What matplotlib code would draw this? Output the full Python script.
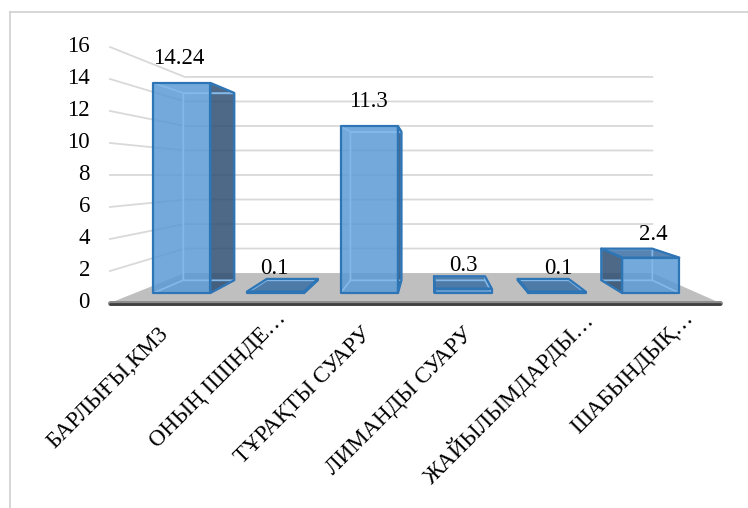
import matplotlib
matplotlib.use("Agg")
import matplotlib.pyplot as plt
from matplotlib.patches import Polygon
from matplotlib.lines import Line2D

plt.rcParams['font.family'] = ['Liberation Serif', 'DejaVu Serif']

# Data
categories = ['БАРЛЫҒЫ,КМ3', 'ОНЫҢ ІШІНДЕ…', 'ТҰРАҚТЫ СУАРУ',
              'ЛИМАНДЫ СУАРУ', 'ЖАЙЫЛЫМДАРДЫ…', 'ШАБЫНДЫҚ…']
values = [14.24, 0.1, 11.3, 0.3, 0.1, 2.4]
value_labels = ['14.24', '0.1', '11.3', '0.3', '0.1', '2.4']
y_ticks = [0, 2, 4, 6, 8, 10, 12, 14, 16]

# 3-D look: one-point perspective around a vanishing point (data units)
XVP, YVP = 2.6465, 8.0     # vanishing point
K = 0.234                   # shrink of the back wall relative to the front plane
BAR_W = 0.61
D_FRONT, D_BACK = 0.333, 0.76
N = len(categories)
XL, XR = -0.5, N - 0.5


def proj(x, v, d):
    f = 1 - K * d
    return XVP + (x - XVP) * f, YVP + (v - YVP) * f


fig = plt.figure(figsize=(7.48, 5.08), dpi=100)
ax = fig.add_axes([0, 0, 1, 1])
ax.set_xlim(-1.5816, 5.7734)
ax.set_ylim(-12.8125, 18.9375)
ax.axis('off')

# chart frame
fig.add_artist(Line2D([10 / 748, 1], [1 - 12 / 508, 1 - 12 / 508],
                      transform=fig.transFigure, color='#CFCFCF', lw=1.2))
fig.add_artist(Line2D([10 / 748, 10 / 748], [0, 1 - 12 / 508],
                      transform=fig.transFigure, color='#CFCFCF', lw=1.2))

grid_c = '#D9D9D9'
# gridlines on the side wall and the back wall
for t in y_ticks[1:]:
    p0 = proj(XL, t, 0)
    p1 = proj(XL, t, 1)
    p2 = proj(XR, t, 1)
    ax.plot([p0[0], p1[0], p2[0]], [p0[1], p1[1], p2[1]],
            color=grid_c, lw=1.3, zorder=1, solid_joinstyle='miter')

# floor
floor = [proj(XL, 0, 0), proj(XR, 0, 0), proj(XR, 0, 1), proj(XL, 0, 1)]
ax.add_patch(Polygon(floor, closed=True, facecolor='#BFBFBF',
                     edgecolor='none', zorder=2))
fa, fb = proj(XL, 0, 0), proj(XR, 0, 0)
ax.plot([fa[0], fb[0]], [fa[1], fb[1]], color='#8C8C8C', lw=3.6,
        zorder=3, solid_capstyle='round')
ax.plot([fa[0], fb[0]], [fa[1] - 0.06, fb[1] - 0.06], color='#404040',
        lw=2.0, zorder=3, solid_capstyle='round')

# tick labels
for t in y_ticks:
    ax.text(XL - 0.197, t, str(t), ha='right', va='center',
            fontsize=16.5, color='#000000', zorder=6)

front_c, side_c, top_c = '#5B9BD5', '#2F4F73', '#3A6EA5'
edge_c, hidden_c = '#2E75B6', '#84B8E8'

for i, v in enumerate(values):
    xa, xb = i - BAR_W / 2, i + BAR_W / 2

    def face(pts):
        return [proj(*p) for p in pts]

    faces = {
        'front': face([(xa, 0, D_FRONT), (xb, 0, D_FRONT), (xb, v, D_FRONT), (xa, v, D_FRONT)]),
        'back': face([(xa, 0, D_BACK), (xb, 0, D_BACK), (xb, v, D_BACK), (xa, v, D_BACK)]),
        'left': face([(xa, 0, D_FRONT), (xa, 0, D_BACK), (xa, v, D_BACK), (xa, v, D_FRONT)]),
        'right': face([(xb, 0, D_FRONT), (xb, 0, D_BACK), (xb, v, D_BACK), (xb, v, D_FRONT)]),
        'top': face([(xa, v, D_FRONT), (xb, v, D_FRONT), (xb, v, D_BACK), (xa, v, D_BACK)]),
        'bottom': face([(xa, 0, D_FRONT), (xb, 0, D_FRONT), (xb, 0, D_BACK), (xa, 0, D_BACK)]),
    }
    visible = ['front']
    if xb < XVP:
        visible.append('right')
    if xa > XVP:
        visible.append('left')
    if v < YVP:
        visible.append('top')
    colors = {'front': front_c, 'right': side_c, 'left': side_c, 'top': top_c}

    for name in visible:
        ax.add_patch(Polygon(faces[name], closed=True, facecolor=colors[name],
                             alpha=0.85, edgecolor='none', zorder=4))
    # edges seen through the translucent faces
    for name in ['back', 'bottom', 'left', 'right', 'top']:
        if name not in visible:
            ax.add_patch(Polygon(faces[name], closed=True, fill=False,
                                 edgecolor=hidden_c, lw=1.0, zorder=4.5))
    for name in visible:
        ax.add_patch(Polygon(faces[name], closed=True, fill=False,
                             edgecolor=edge_c, lw=1.6, zorder=5,
                             joinstyle='round'))

    lx, ly = proj(i, v + 1.6, 0.29)
    ax.text(lx, ly, value_labels[i], ha='center', va='center',
            fontsize=16.5, color='#000000', zorder=6)

# category labels under the floor; truncated ones sit a little further along
for i, c in enumerate(categories):
    extra = 1.0 if c.endswith('…') else 0.0
    ax.text(i - 0.03 + 0.16 * extra, -1.3 + 1.0 * extra, c,
            rotation=45, rotation_mode='anchor',
            ha='right', va='top', fontsize=16.5, color='#000000', zorder=6)

fig.savefig('out.png', dpi=100)
